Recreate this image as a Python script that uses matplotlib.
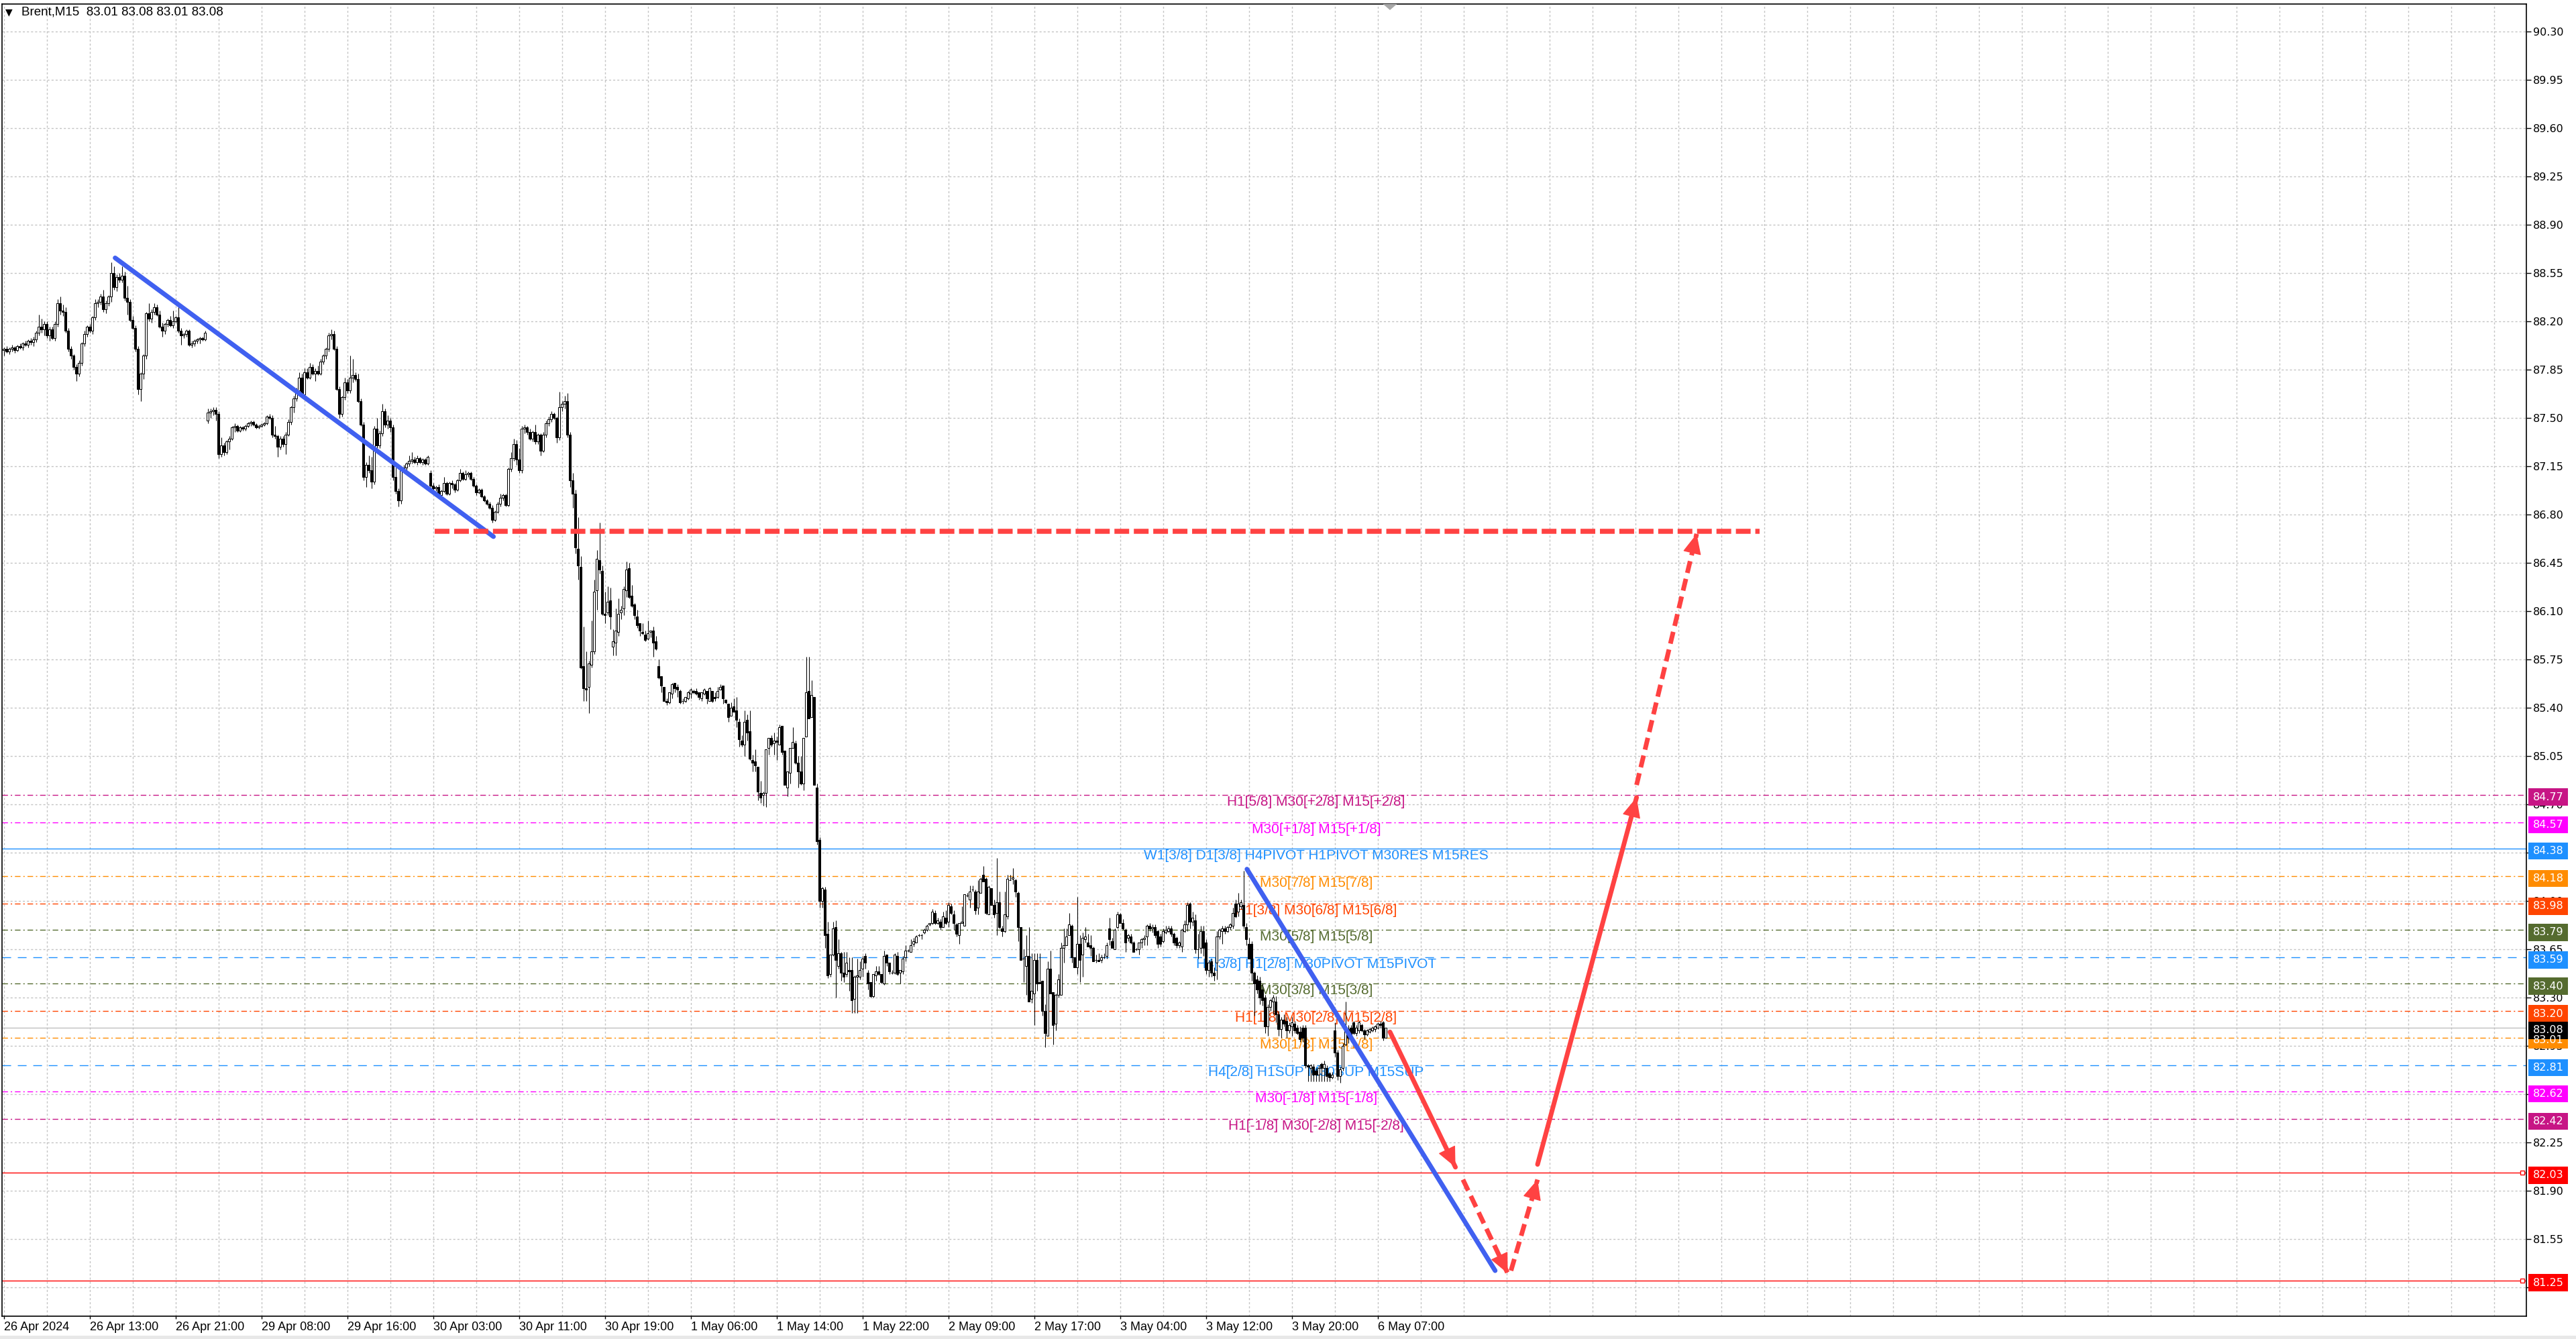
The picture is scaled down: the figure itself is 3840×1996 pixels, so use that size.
import numpy as np
import matplotlib
matplotlib.use("Agg")
import matplotlib.pyplot as plt
import matplotlib.transforms as mtransforms
from matplotlib.patches import Rectangle, Polygon

# Brent M15 candles, bar 0 = 26 Apr 2024
opens = [
    87.99, 88.00, 87.98, 88.00, 88.01, 87.99, 88.02, 88.01, 88.04, 88.03,
    88.06, 88.05, 88.07, 88.12, 88.16, 88.14, 88.18, 88.10, 88.14, 88.08,
    88.18, 88.33, 88.28, 88.27, 88.13, 88.00, 87.95, 87.87, 87.82, 87.90,
    88.04, 88.11, 88.16, 88.13, 88.23, 88.33, 88.34, 88.38, 88.29, 88.33,
    88.38, 88.55, 88.45, 88.52, 88.50, 88.53, 88.37, 88.34, 88.21, 88.15,
    88.00, 87.71, 87.82, 87.95, 88.26, 88.22, 88.27, 88.30, 88.25, 88.16,
    88.13, 88.18, 88.21, 88.17, 88.20, 88.23, 88.13, 88.10, 88.11, 88.13,
    88.03, 88.04, 88.06, 88.07, 88.08, 88.07, 87.48, 87.54, 87.55, 87.56,
    87.53, 87.24, 87.30, 87.25, 87.33, 87.35, 87.43, 87.44, 87.41, 87.43,
    87.42, 87.44, 87.46, 87.47, 87.45, 87.43, 87.44, 87.45, 87.46, 87.51,
    87.50, 87.38, 87.37, 87.29, 87.35, 87.31, 87.38, 87.47, 87.58, 87.64,
    87.70, 87.79, 87.67, 87.83, 87.79, 87.87, 87.82, 87.84, 87.82, 87.91,
    87.95, 88.00, 88.10, 88.11, 88.00, 87.71, 87.53, 87.65, 87.76, 87.70,
    87.79, 87.81, 87.78, 87.62, 87.45, 87.07, 87.16, 87.12, 87.04, 87.42,
    87.30, 87.39, 87.55, 87.45, 87.48, 87.43, 87.07, 86.97, 86.90, 87.12,
    87.14, 87.17, 87.19, 87.20, 87.18, 87.21, 87.18, 87.20, 87.17, 87.10,
    87.01, 86.99, 87.00, 86.94, 86.97, 87.03, 86.95, 87.03, 87.02, 86.98,
    87.05, 87.10, 87.06, 87.09, 87.10, 87.06, 87.01, 86.96, 86.98, 86.93,
    86.90, 86.88, 86.85, 86.76, 86.82, 86.88, 86.92, 86.94, 86.87, 87.13,
    87.21, 87.31, 87.20, 87.12, 87.42, 87.43, 87.40, 87.35, 87.40, 87.33,
    87.38, 87.26, 87.38, 87.46, 87.49, 87.53, 87.50, 87.36, 87.58, 87.60,
    87.62, 87.38, 87.05, 86.95, 86.55, 86.42, 85.70, 85.54, 85.55, 85.71,
    85.81, 86.25, 86.47, 86.39, 86.08, 86.09, 86.18, 85.84, 85.87, 85.95,
    86.09, 86.12, 86.25, 86.41, 86.21, 86.15, 86.06, 86.01, 85.95, 85.93,
    85.90, 85.95, 85.96, 85.88, 85.70, 85.63, 85.55, 85.45, 85.44, 85.50,
    85.58, 85.55, 85.52, 85.45, 85.45, 85.47, 85.50, 85.52, 85.52, 85.51,
    85.47, 85.50, 85.52, 85.45, 85.52, 85.48, 85.48, 85.53, 85.56, 85.46,
    85.43, 85.34, 85.41, 85.38, 85.30, 85.16, 85.13, 85.31, 85.23, 85.02,
    85.01, 84.97, 84.78, 84.77, 84.78, 85.11, 85.18, 85.14, 85.16, 85.13,
    85.27, 85.09, 84.82, 84.93, 85.11, 85.14, 85.00, 84.94, 84.85, 85.19,
    85.52, 85.33, 85.48, 84.82, 84.44, 84.00, 84.08, 83.76, 83.47, 83.61,
    83.81, 83.53, 83.62, 83.48, 83.47, 83.50, 83.50, 83.29, 83.45, 83.45,
    83.51, 83.60, 83.48, 83.41, 83.31, 83.46, 83.49, 83.47, 83.40, 83.61,
    83.55, 83.48, 83.48, 83.60, 83.48, 83.49, 83.59, 83.64, 83.63, 83.69,
    83.70, 83.75, 83.75, 83.77, 83.79, 83.83, 83.84, 83.91, 83.84, 83.85,
    83.81, 83.88, 83.85, 83.96, 83.90, 83.83, 83.75, 83.84, 83.82, 84.04,
    84.01, 84.08, 84.07, 83.95, 84.06, 84.19, 84.16, 83.90, 84.09, 83.97,
    83.91, 83.99, 83.80, 83.78, 83.89, 84.15, 84.16, 84.15, 84.06, 83.81,
    83.58, 83.53, 83.60, 83.29, 83.33, 83.57, 83.41, 83.42, 83.20, 83.02,
    83.51, 83.34, 83.11, 83.32, 83.32, 83.66, 83.68, 83.75, 83.82, 83.59,
    83.52, 83.69, 83.61, 83.72, 83.70, 83.68, 83.66, 83.57, 83.57, 83.57,
    83.59, 83.60, 83.80, 83.71, 83.65, 83.81, 83.90, 83.84, 83.79, 83.73,
    83.74, 83.70, 83.65, 83.65, 83.70, 83.72, 83.74, 83.82, 83.80, 83.81,
    83.78, 83.74, 83.71, 83.77, 83.78, 83.80, 83.76, 83.73, 83.68, 83.67,
    83.78, 83.83, 83.98, 83.85, 83.86, 83.65, 83.66, 83.78, 83.70, 83.50,
    83.56, 83.48, 83.55, 83.74, 83.78, 83.80, 83.78, 83.81, 83.82, 83.98,
    83.92, 83.96, 83.97, 83.81, 83.69, 83.69, 83.48, 83.43, 83.42, 83.36,
    83.30, 83.09, 83.23, 83.27, 83.27, 83.18, 83.07, 83.14, 83.13, 83.06,
    83.09, 83.11, 83.08, 83.05, 83.08, 83.08, 82.81, 82.79, 82.80, 82.77,
    82.74, 82.82, 82.79, 82.79, 82.75, 82.72, 83.06, 82.90, 82.73, 82.79,
    82.96, 83.07, 83.08, 83.12, 83.04, 83.06, 83.10, 83.06, 83.03, 83.05,
    83.06, 83.07, 83.08, 83.11, 83.12, 83.01,
]
highs = [
    88.01, 88.02, 88.01, 88.03, 88.02, 88.03, 88.04, 88.05, 88.06, 88.07,
    88.08, 88.09, 88.13, 88.25, 88.22, 88.20, 88.20, 88.16, 88.16, 88.20,
    88.36, 88.38, 88.32, 88.30, 88.15, 88.02, 87.96, 87.89, 87.92, 88.05,
    88.13, 88.17, 88.18, 88.24, 88.36, 88.36, 88.40, 88.43, 88.35, 88.39,
    88.63, 88.60, 88.54, 88.55, 88.60, 88.56, 88.46, 88.36, 88.24, 88.17,
    88.02, 87.83, 87.96, 88.27, 88.33, 88.29, 88.33, 88.32, 88.28, 88.19,
    88.19, 88.22, 88.24, 88.28, 88.24, 88.32, 88.15, 88.12, 88.14, 88.14,
    88.06, 88.07, 88.08, 88.09, 88.09, 88.13, 87.57, 87.57, 87.58, 87.58,
    87.55, 87.36, 87.32, 87.34, 87.37, 87.44, 87.46, 87.45, 87.44, 87.44,
    87.45, 87.47, 87.48, 87.48, 87.46, 87.45, 87.46, 87.47, 87.52, 87.53,
    87.52, 87.44, 87.38, 87.37, 87.37, 87.40, 87.49, 87.59, 87.66, 87.72,
    87.83, 87.82, 87.86, 87.86, 87.90, 87.89, 87.86, 87.88, 87.93, 87.96,
    88.01, 88.12, 88.14, 88.13, 88.02, 87.73, 87.66, 87.79, 87.78, 87.95,
    87.93, 87.83, 87.82, 87.64, 87.47, 87.18, 87.23, 87.22, 87.44, 87.50,
    87.41, 87.60, 87.57, 87.52, 87.50, 87.45, 87.14, 86.99, 87.13, 87.16,
    87.18, 87.23, 87.25, 87.22, 87.23, 87.22, 87.21, 87.21, 87.23, 87.12,
    87.03, 87.01, 87.02, 86.98, 87.07, 87.04, 87.04, 87.05, 87.03, 87.06,
    87.13, 87.11, 87.12, 87.11, 87.11, 87.07, 87.02, 86.99, 86.99, 86.94,
    86.91, 86.89, 86.87, 86.83, 86.89, 86.95, 86.95, 86.95, 87.14, 87.25,
    87.35, 87.34, 87.28, 87.44, 87.45, 87.44, 87.42, 87.41, 87.45, 87.39,
    87.39, 87.40, 87.48, 87.51, 87.55, 87.54, 87.51, 87.69, 87.62, 87.66,
    87.68, 87.40, 87.10, 86.98, 86.78, 86.50, 85.99, 85.81, 85.74, 86.03,
    86.33, 86.54, 86.74, 86.43, 86.24, 86.28, 86.27, 85.97, 86.12, 86.19,
    86.14, 86.28, 86.46, 86.45, 86.29, 86.16, 86.11, 86.01, 86.01, 85.96,
    86.03, 85.96, 85.99, 85.92, 85.75, 85.63, 85.55, 85.47, 85.51, 85.58,
    85.58, 85.57, 85.53, 85.47, 85.48, 85.52, 85.54, 85.53, 85.54, 85.51,
    85.51, 85.54, 85.52, 85.55, 85.52, 85.51, 85.55, 85.57, 85.56, 85.46,
    85.43, 85.44, 85.47, 85.48, 85.32, 85.20, 85.38, 85.35, 85.38, 85.06,
    85.10, 84.97, 84.87, 84.79, 85.10, 85.18, 85.20, 85.22, 85.19, 85.28,
    85.27, 85.09, 84.94, 85.11, 85.26, 85.16, 85.05, 85.05, 85.18, 85.77,
    85.77, 85.60, 85.48, 84.85, 84.46, 84.10, 84.10, 83.85, 83.61, 83.85,
    83.86, 83.72, 83.63, 83.63, 83.63, 83.59, 83.59, 83.46, 83.58, 83.56,
    83.60, 83.62, 83.50, 83.41, 83.47, 83.53, 83.53, 83.47, 83.64, 83.61,
    83.55, 83.50, 83.62, 83.63, 83.50, 83.60, 83.68, 83.65, 83.72, 83.73,
    83.75, 83.76, 83.76, 83.80, 83.83, 83.84, 83.94, 83.93, 83.88, 83.87,
    83.92, 83.93, 83.99, 83.98, 83.93, 83.84, 83.84, 83.96, 84.05, 84.06,
    84.11, 84.11, 84.08, 84.15, 84.17, 84.25, 84.17, 84.11, 84.09, 84.01,
    84.31, 84.07, 83.82, 84.07, 84.19, 84.19, 84.24, 84.16, 84.07, 83.81,
    83.65, 83.75, 83.81, 83.62, 83.62, 83.62, 83.62, 83.42, 83.25, 83.56,
    83.64, 83.34, 83.33, 83.47, 83.70, 83.80, 83.80, 83.91, 83.83, 83.59,
    84.03, 83.75, 83.77, 83.81, 83.76, 83.75, 83.67, 83.61, 83.62, 83.61,
    83.62, 83.70, 83.88, 83.73, 83.80, 83.92, 83.91, 83.87, 83.80, 83.76,
    83.76, 83.71, 83.66, 83.70, 83.73, 83.75, 83.83, 83.84, 83.83, 83.83,
    83.79, 83.76, 83.80, 83.82, 83.82, 83.82, 83.77, 83.74, 83.71, 83.80,
    83.86, 83.99, 83.99, 83.92, 83.90, 83.76, 83.82, 83.82, 83.72, 83.57,
    83.58, 83.52, 83.78, 83.80, 83.82, 83.82, 83.82, 83.84, 83.95, 84.01,
    84.06, 84.01, 84.22, 83.84, 83.73, 83.71, 83.49, 83.46, 83.45, 83.40,
    83.32, 83.25, 83.29, 83.32, 83.31, 83.20, 83.16, 83.18, 83.16, 83.12,
    83.16, 83.13, 83.10, 83.09, 83.10, 83.10, 82.82, 82.82, 82.82, 82.79,
    82.81, 82.83, 82.84, 82.81, 82.76, 82.76, 83.12, 82.92, 82.80, 82.97,
    83.27, 83.10, 83.10, 83.13, 83.10, 83.13, 83.11, 83.07, 83.07, 83.08,
    83.09, 83.10, 83.12, 83.13, 83.13, 83.08,
]
lows = [
    87.95, 87.97, 87.96, 87.98, 87.97, 87.98, 88.00, 87.99, 88.02, 88.01,
    88.03, 88.02, 88.05, 88.10, 88.12, 88.10, 88.08, 88.06, 88.07, 88.06,
    88.16, 88.25, 88.24, 88.12, 87.98, 87.93, 87.85, 87.77, 87.80, 87.88,
    88.02, 88.09, 88.12, 88.11, 88.21, 88.30, 88.32, 88.27, 88.26, 88.31,
    88.34, 88.43, 88.42, 88.48, 88.48, 88.35, 88.25, 88.20, 88.14, 87.98,
    87.67, 87.62, 87.78, 87.93, 88.20, 88.19, 88.25, 88.24, 88.15, 88.09,
    88.11, 88.16, 88.16, 88.15, 88.19, 88.12, 88.03, 88.08, 88.09, 88.02,
    88.01, 88.02, 88.04, 88.04, 88.06, 88.06, 87.46, 87.50, 87.52, 87.48,
    87.21, 87.22, 87.23, 87.24, 87.27, 87.34, 87.40, 87.40, 87.40, 87.41,
    87.41, 87.43, 87.44, 87.44, 87.42, 87.42, 87.43, 87.44, 87.45, 87.49,
    87.36, 87.35, 87.22, 87.27, 87.29, 87.24, 87.37, 87.45, 87.54, 87.62,
    87.68, 87.65, 87.66, 87.78, 87.78, 87.81, 87.77, 87.81, 87.81, 87.89,
    87.93, 87.98, 88.07, 87.99, 87.70, 87.50, 87.51, 87.63, 87.68, 87.68,
    87.76, 87.77, 87.61, 87.44, 87.05, 87.00, 87.10, 86.99, 87.02, 87.28,
    87.28, 87.37, 87.43, 87.42, 87.40, 87.05, 86.95, 86.86, 86.88, 87.10,
    87.12, 87.15, 87.17, 87.17, 87.16, 87.17, 87.16, 87.16, 87.16, 87.00,
    86.97, 86.97, 86.93, 86.92, 86.96, 86.94, 86.94, 86.99, 86.96, 86.97,
    87.04, 87.05, 87.05, 87.07, 87.05, 87.00, 86.94, 86.95, 86.92, 86.89,
    86.87, 86.84, 86.74, 86.75, 86.81, 86.86, 86.90, 86.86, 86.86, 87.11,
    87.19, 87.16, 87.10, 87.10, 87.39, 87.38, 87.34, 87.33, 87.31, 87.31,
    87.23, 87.25, 87.36, 87.44, 87.47, 87.49, 87.32, 87.34, 87.55, 87.57,
    87.36, 87.00, 86.85, 86.52, 86.33, 85.68, 85.45, 85.45, 85.36, 85.69,
    85.79, 86.11, 86.37, 86.07, 86.01, 86.07, 85.97, 85.78, 85.78, 85.92,
    86.04, 86.07, 86.20, 86.19, 86.13, 86.04, 85.98, 85.92, 85.93, 85.88,
    85.89, 85.91, 85.77, 85.82, 85.61, 85.51, 85.45, 85.42, 85.43, 85.47,
    85.51, 85.48, 85.43, 85.43, 85.44, 85.46, 85.47, 85.50, 85.49, 85.46,
    85.45, 85.49, 85.43, 85.45, 85.44, 85.45, 85.47, 85.53, 85.43, 85.43,
    85.30, 85.34, 85.37, 85.26, 85.12, 85.12, 85.05, 85.16, 85.02, 84.94,
    84.94, 84.73, 84.71, 84.69, 84.68, 85.06, 85.12, 85.06, 85.02, 85.13,
    85.06, 84.84, 84.76, 84.85, 85.11, 84.99, 84.82, 84.84, 84.80, 85.19,
    85.32, 85.33, 84.84, 84.41, 83.95, 83.95, 83.66, 83.44, 83.45, 83.60,
    83.30, 83.51, 83.42, 83.41, 83.45, 83.35, 83.19, 83.19, 83.19, 83.43,
    83.45, 83.51, 83.36, 83.30, 83.30, 83.42, 83.46, 83.40, 83.39, 83.53,
    83.47, 83.47, 83.47, 83.46, 83.40, 83.47, 83.56, 83.63, 83.63, 83.67,
    83.70, 83.74, 83.72, 83.76, 83.78, 83.82, 83.83, 83.83, 83.83, 83.79,
    83.81, 83.83, 83.81, 83.90, 83.79, 83.74, 83.69, 83.84, 83.82, 84.03,
    83.95, 84.07, 83.90, 83.90, 84.06, 84.15, 83.90, 83.90, 83.97, 83.88,
    83.75, 83.80, 83.74, 83.77, 83.87, 84.15, 84.12, 84.03, 83.71, 83.57,
    83.41, 83.32, 83.27, 83.26, 83.10, 83.35, 83.40, 83.17, 82.94, 83.02,
    83.33, 82.96, 83.06, 83.30, 83.32, 83.55, 83.68, 83.75, 83.55, 83.52,
    83.47, 83.41, 83.45, 83.70, 83.67, 83.60, 83.56, 83.55, 83.56, 83.55,
    83.58, 83.58, 83.68, 83.66, 83.65, 83.80, 83.84, 83.79, 83.63, 83.71,
    83.69, 83.63, 83.64, 83.61, 83.66, 83.68, 83.68, 83.78, 83.77, 83.73,
    83.66, 83.67, 83.70, 83.76, 83.77, 83.74, 83.68, 83.66, 83.66, 83.63,
    83.77, 83.78, 83.80, 83.82, 83.62, 83.58, 83.62, 83.60, 83.47, 83.45,
    83.45, 83.42, 83.43, 83.72, 83.69, 83.76, 83.77, 83.79, 83.80, 83.88,
    83.89, 83.94, 83.80, 83.68, 83.58, 83.42, 83.17, 83.33, 83.25, 83.24,
    83.04, 83.02, 83.20, 83.18, 83.12, 83.02, 83.01, 83.09, 83.01, 83.04,
    83.02, 83.04, 83.03, 82.98, 82.98, 82.79, 82.69, 82.69, 82.69, 82.69,
    82.69, 82.69, 82.69, 82.69, 82.69, 82.71, 82.87, 82.70, 82.68, 82.77,
    82.95, 82.97, 82.98, 83.03, 83.02, 83.04, 83.05, 83.00, 83.02, 83.04,
    83.05, 83.05, 83.07, 83.08, 82.99, 83.01,
]
closes = [
    88.00, 87.98, 88.00, 88.01, 87.99, 88.02, 88.01, 88.04, 88.03, 88.06,
    88.05, 88.07, 88.12, 88.16, 88.14, 88.18, 88.10, 88.14, 88.08, 88.18,
    88.33, 88.28, 88.27, 88.13, 88.00, 87.95, 87.87, 87.82, 87.90, 88.04,
    88.11, 88.16, 88.13, 88.23, 88.33, 88.34, 88.38, 88.29, 88.33, 88.38,
    88.55, 88.45, 88.52, 88.50, 88.53, 88.37, 88.34, 88.21, 88.15, 88.00,
    87.71, 87.82, 87.95, 88.26, 88.22, 88.27, 88.30, 88.25, 88.16, 88.13,
    88.18, 88.21, 88.17, 88.20, 88.23, 88.13, 88.10, 88.11, 88.13, 88.03,
    88.04, 88.06, 88.07, 88.08, 88.07, 88.12, 87.54, 87.55, 87.56, 87.53,
    87.24, 87.30, 87.25, 87.33, 87.35, 87.43, 87.44, 87.41, 87.43, 87.42,
    87.44, 87.46, 87.47, 87.45, 87.43, 87.44, 87.45, 87.46, 87.51, 87.50,
    87.38, 87.37, 87.29, 87.35, 87.31, 87.38, 87.47, 87.58, 87.64, 87.70,
    87.79, 87.67, 87.83, 87.79, 87.87, 87.82, 87.84, 87.82, 87.91, 87.95,
    88.00, 88.10, 88.11, 88.00, 87.71, 87.53, 87.65, 87.76, 87.70, 87.79,
    87.81, 87.78, 87.62, 87.45, 87.07, 87.16, 87.12, 87.04, 87.42, 87.30,
    87.39, 87.55, 87.45, 87.48, 87.43, 87.07, 86.97, 86.90, 87.12, 87.14,
    87.17, 87.19, 87.20, 87.18, 87.21, 87.18, 87.20, 87.17, 87.22, 87.01,
    86.99, 87.00, 86.94, 86.97, 87.03, 86.95, 87.03, 87.02, 86.98, 87.05,
    87.10, 87.06, 87.09, 87.10, 87.06, 87.01, 86.96, 86.98, 86.93, 86.90,
    86.88, 86.85, 86.76, 86.82, 86.88, 86.92, 86.94, 86.87, 87.13, 87.21,
    87.31, 87.20, 87.12, 87.42, 87.43, 87.40, 87.35, 87.40, 87.33, 87.38,
    87.26, 87.38, 87.46, 87.49, 87.53, 87.50, 87.36, 87.58, 87.60, 87.62,
    87.38, 87.05, 86.95, 86.56, 86.43, 85.69, 85.54, 85.53, 85.72, 85.81,
    86.24, 86.48, 86.40, 86.08, 86.07, 86.17, 86.06, 85.88, 85.96, 86.08,
    86.11, 86.26, 86.40, 86.20, 86.14, 86.07, 86.00, 85.96, 85.94, 85.89,
    85.94, 85.96, 85.87, 85.83, 85.62, 85.56, 85.45, 85.44, 85.51, 85.57,
    85.54, 85.53, 85.44, 85.45, 85.48, 85.51, 85.53, 85.51, 85.50, 85.48,
    85.51, 85.53, 85.47, 85.54, 85.45, 85.47, 85.52, 85.55, 85.47, 85.44,
    85.33, 85.40, 85.37, 85.31, 85.17, 85.13, 85.30, 85.22, 85.03, 85.00,
    84.98, 84.79, 84.75, 84.78, 85.10, 85.18, 85.13, 85.16, 85.15, 85.26,
    85.08, 84.84, 84.94, 85.11, 85.15, 85.00, 84.94, 84.85, 85.18, 85.51,
    85.32, 85.49, 84.84, 84.43, 84.00, 84.09, 83.75, 83.46, 83.61, 83.80,
    83.57, 83.62, 83.48, 83.45, 83.55, 83.49, 83.28, 83.45, 83.46, 83.50,
    83.58, 83.55, 83.40, 83.31, 83.47, 83.49, 83.47, 83.41, 83.60, 83.55,
    83.49, 83.48, 83.61, 83.47, 83.50, 83.58, 83.64, 83.64, 83.68, 83.71,
    83.74, 83.75, 83.75, 83.79, 83.82, 83.84, 83.92, 83.84, 83.86, 83.81,
    83.89, 83.84, 83.97, 83.91, 83.84, 83.76, 83.84, 83.85, 84.05, 84.04,
    84.07, 84.08, 83.93, 84.07, 84.16, 84.14, 83.91, 84.10, 83.97, 83.90,
    83.99, 83.81, 83.78, 83.90, 84.16, 84.15, 84.17, 84.07, 83.81, 83.57,
    83.58, 83.60, 83.27, 83.35, 83.57, 83.40, 83.40, 83.20, 83.04, 83.51,
    83.33, 83.10, 83.32, 83.43, 83.66, 83.68, 83.74, 83.83, 83.59, 83.52,
    83.69, 83.57, 83.73, 83.74, 83.67, 83.66, 83.56, 83.57, 83.56, 83.59,
    83.59, 83.68, 83.72, 83.66, 83.79, 83.90, 83.84, 83.80, 83.70, 83.75,
    83.70, 83.63, 83.65, 83.70, 83.72, 83.73, 83.82, 83.80, 83.81, 83.75,
    83.69, 83.69, 83.78, 83.79, 83.80, 83.76, 83.70, 83.68, 83.70, 83.79,
    83.83, 83.97, 83.85, 83.88, 83.65, 83.65, 83.78, 83.66, 83.50, 83.55,
    83.48, 83.46, 83.74, 83.79, 83.80, 83.78, 83.81, 83.83, 83.91, 83.89,
    83.98, 83.99, 83.82, 83.72, 83.58, 83.48, 83.40, 83.36, 83.30, 83.28,
    83.09, 83.23, 83.28, 83.30, 83.18, 83.07, 83.14, 83.11, 83.06, 83.10,
    83.12, 83.06, 83.04, 83.00, 83.01, 82.81, 82.80, 82.81, 82.74, 82.74,
    82.79, 82.79, 82.82, 82.73, 82.72, 82.74, 82.90, 82.73, 82.78, 82.95,
    83.09, 83.01, 83.01, 83.04, 83.08, 83.12, 83.06, 83.03, 83.06, 83.07,
    83.08, 83.09, 83.11, 83.10, 83.01, 83.08,
]

# time axis: one label every 32 bars
time_labels = ["26 Apr 2024", "26 Apr 13:00", "26 Apr 21:00", "29 Apr 08:00",
               "29 Apr 16:00", "30 Apr 03:00", "30 Apr 11:00", "30 Apr 19:00",
               "1 May 06:00", "1 May 14:00", "1 May 22:00", "2 May 09:00",
               "2 May 17:00", "3 May 04:00", "3 May 12:00", "3 May 20:00",
               "6 May 07:00"]
price_ticks = [90.30, 89.95, 89.60, 89.25, 88.90, 88.55, 88.20, 87.85, 87.50,
               87.15, 86.80, 86.45, 86.10, 85.75, 85.40, 85.05, 84.70, 84.35,
               84.00, 83.65, 83.30, 82.95, 82.60, 82.25, 81.90, 81.55, 81.20]

# Murrey math levels
level_prices = [84.77, 84.57, 84.38, 84.18, 83.98, 83.79, 83.59, 83.40,
                83.20, 83.01, 82.81, 82.62, 82.42]
level_names = ["H1[5/8] M30[+2/8] M15[+2/8]",
               "M30[+1/8] M15[+1/8]",
               "W1[3/8] D1[3/8] H4PIVOT H1PIVOT M30RES M15RES",
               "M30[7/8] M15[7/8]",
               "H1[3/8] M30[6/8] M15[6/8]",
               "M30[5/8] M15[5/8]",
               "H4[3/8] H1[2/8] M30PIVOT M15PIVOT",
               "M30[3/8] M15[3/8]",
               "H1[1/8] M30[2/8] M15[2/8]",
               "M30[1/8] M15[1/8]",
               "H4[2/8] H1SUP M30SUP M15SUP",
               "M30[-1/8] M15[-1/8]",
               "H1[-1/8] M30[-2/8] M15[-2/8]"]
level_colors = ["#C71585", "#FF00FF", "#1E90FF", "#FF8C00", "#FF4500",
                "#556B2F", "#1E90FF", "#556B2F", "#FF4500", "#FF8C00",
                "#1E90FF", "#FF00FF", "#C71585"]
level_styles = ["dashdot", "dashdot", "solid", "dashdot", "dashdot", "dashdot",
                "dashed", "dashdot", "dashdot", "dashdot", "dashed", "dashdot",
                "dashdot"]
red_levels = [82.03, 81.25]
bid_price = 83.08
header = "Brent,M15  83.01 83.08 83.01 83.08"

# hand drawn objects (bar index, price)
trend_lines = [((41.5, 88.66), (182.5, 86.64)),
               ((463.3, 84.23), (555.8, 81.32))]
target_line = ((160.5, 86.68), (654.3, 86.68))
arrows = [((516.6, 83.05), (541.0, 82.07), False),
          ((543.8, 81.98), (560.5, 81.30), True),
          ((561.7, 81.32), (571.6, 81.98), True),
          ((571.6, 82.09), (608.5, 84.75), False),
          ((608.5, 84.84), (630.9, 86.66), True)]

n = min(len(opens), len(highs), len(lows), len(closes))
o = np.array(opens[:n]); h = np.array(highs[:n])
l = np.array(lows[:n]); c = np.array(closes[:n])
h = np.maximum(h, np.maximum(o, c))
l = np.minimum(l, np.minimum(o, c))
x = np.arange(n)

W, H = 3840, 1996
fig = plt.figure(figsize=(W / 100, H / 100), dpi=100)
ax = fig.add_axes([3 / W, 1 - 1962 / H, 3763 / W, 1956 / H])
ax.set_xlim(-0.65, 940.1)
ax.set_ylim(80.99, 90.50)

grid_kw = dict(color="#C4C4C4", lw=1.0, dashes=(2.2, 2.2), zorder=0)
for b in range(0, 941, 16):
    ax.axvline(b, **grid_kw)
for p in price_ticks:
    ax.axhline(p, **grid_kw)

# levels
for p, name, col, st in zip(level_prices, level_names, level_colors, level_styles):
    if st == "solid":
        ax.axhline(p, color=col, lw=1.0, zorder=1)
    elif st == "dashed":
        ax.axhline(p, color=col, lw=1.0, dashes=(9.4, 7.2), zorder=1)
    else:
        ax.axhline(p, color=col, lw=1.0, dashes=(6.0, 3.0, 1.5, 3.0), zorder=1)
    ax.text(489.1, p - 0.005, name, color=col, ha="center", va="top",
            fontsize=15, family=["Liberation Sans", "DejaVu Sans"], zorder=2)
for p in red_levels:
    ax.axhline(p, color="#FF0000", lw=1.0, zorder=1)
    ax.plot([938.6], [p], marker="s", ms=4, mfc="white", mec="#FF0000",
            mew=1.0, zorder=2, clip_on=False)
ax.axhline(bid_price, color="#C0C0C0", lw=1.0, zorder=1)

# candles
ax.vlines(x, l, h, color="black", lw=0.75, zorder=3)
up = c >= o
ax.bar(x, np.abs(c - o), bottom=np.minimum(o, c), width=0.72,
       color=np.where(up, "white", "black"), edgecolor="black",
       linewidth=0.75, zorder=3.5)

# trend lines and target
blue = "#4060F0"
red = "#FF4242"
for (x0, y0), (x1, y1) in trend_lines:
    ax.plot([x0, x1], [y0, y1], color=blue, lw=5, solid_capstyle="round", zorder=5)
ax.plot([target_line[0][0], target_line[1][0]],
        [target_line[0][1], target_line[1][1]],
        color=red, lw=5.4, dashes=(2.93, 0.93), zorder=5)

for (x0, y0), (x1, y1), dashed in arrows:
    if dashed:
        ax.plot([x0, x1], [y0, y1], color=red, lw=5, dashes=(2.6, 1.3),
                solid_capstyle="butt", zorder=5)
    else:
        ax.plot([x0, x1], [y0, y1], color=red, lw=5, solid_capstyle="round", zorder=5)
    ax.annotate("", xy=(x1, y1),
                xytext=(x1 - 0.02 * (x1 - x0), y1 - 0.02 * (y1 - y0)),
                arrowprops=dict(arrowstyle="-|>,head_length=1.3,head_width=0.6",
                                color=red, lw=1, shrinkA=0, shrinkB=0,
                                mutation_scale=15),
                zorder=6)

# axes look
for sp in ax.spines.values():
    sp.set_color("black")
    sp.set_linewidth(1.2)
ax.yaxis.tick_right()
ax.set_yticks(price_ticks)
ax.set_yticklabels([f"{p:.2f}" for p in price_ticks])
ax.tick_params(axis="y", direction="out", length=5, width=1, pad=2,
               labelsize=11.5, colors="black")
ax.set_xticks(np.arange(len(time_labels)) * 32)
ax.set_xticklabels(time_labels, ha="left", fontsize=13,
                   family=["Liberation Sans", "DejaVu Sans"])
ax.tick_params(axis="x", direction="out", length=3, width=1, pad=3)

# price boxes on the right scale (sit a few pixels below their line)
trans = mtransforms.blended_transform_factory(ax.transAxes, ax.transData)
bx0, bw, bh, bshift = 1.0008, 0.01568, 0.125, 0.018
box_prices = level_prices + red_levels + [bid_price]
box_colors = level_colors + ["#FF0000", "#FF0000"] + ["black"]
for p, col in zip(box_prices, box_colors):
    yc = p - bshift
    ax.add_patch(Rectangle((bx0, yc - bh / 2), bw, bh, transform=trans,
                           facecolor=col, edgecolor="none", clip_on=False, zorder=10))
    ax.text(bx0 + bw / 2, yc, f"{p:.2f}", transform=trans, color="white",
            ha="center", va="center", fontsize=11.5, zorder=11, clip_on=False)

# chart shift marker at the top
tr2 = mtransforms.blended_transform_factory(ax.transData, ax.transAxes)
ax.add_patch(Polygon([(514.0, 1.0), (519.2, 1.0), (516.6, 1 - 9 / 1956)],
                     closed=True, transform=tr2, facecolor="#A8A8A8",
                     edgecolor="none", clip_on=False, zorder=7))

# header
fig.text(8 / W, 1 - 18 / H, "\u25BC", fontsize=10, va="center", ha="left",
         family="DejaVu Sans")
fig.text(32 / W, 1 - 18 / H, header, fontsize=13.5, va="center", ha="left",
         family=["Liberation Sans", "DejaVu Sans"])
fig.add_artist(Rectangle((0, 0), 1, 5 / H, transform=fig.transFigure,
                         facecolor="#E8E8E8", edgecolor="none"))

fig.savefig("out.png", dpi=100, facecolor="white")
